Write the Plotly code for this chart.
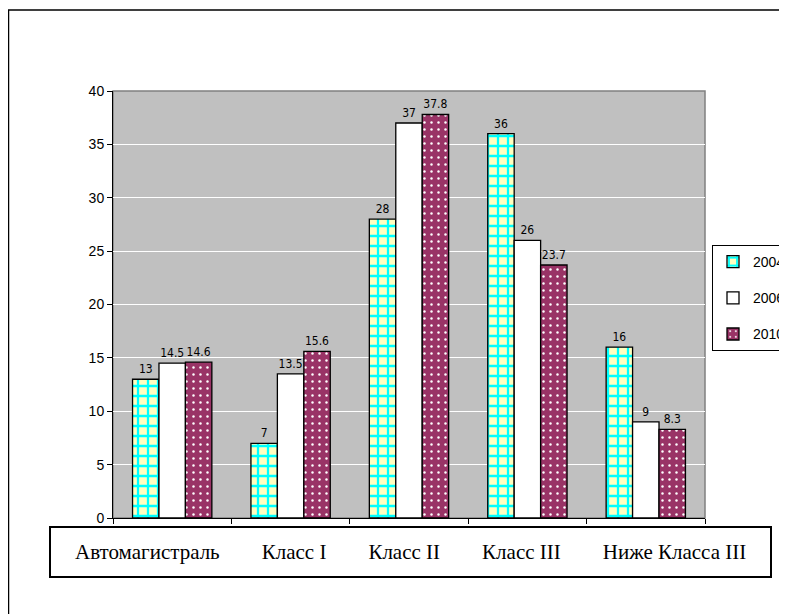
import plotly.graph_objects as go

categories = ["Автомагистраль", "Класс I", "Класс II", "Класс III", "Ниже Класса III"]
years = ["2004", "2006", "2010"]
v2004 = [13, 7, 28, 36, 16]
v2006 = [14.5, 13.5, 37, 26, 9]
v2010 = [14.6, 15.6, 37.8, 23.7, 8.3]
y_ticks = [0, 5, 10, 15, 20, 25, 30, 35, 40]

W, H = 787, 614
# page is offset by the 8px body margin
OFF = 8
PL, PR, PT, PB = 113, 705, 91, 518   # plot area in screenshot pixels
pw, ph = PR - PL, PB - PT
L, T = PL - OFF, PT - OFF
R = W - L - pw
B = H - T - ph

def px(x):
    return (x - PL) / pw

def py(y):
    return (PB - y) / ph

label_font = dict(family="Liberation Sans Narrow, Arial Narrow, DejaVu Sans Condensed, Liberation Sans",
                  size=12, color="black")

patterns = [
    dict(shape="+", fgcolor="#00FFFF", bgcolor="#FFFFC0", size=10, solidity=0.4, fillmode="replace"),
    None,
    dict(shape=".", fgcolor="#FFFFFF", bgcolor="#993366", size=7, solidity=0.1, fillmode="replace"),
]
colors = ["#00FFFF", "#FFFFFF", "#993366"]

fig = go.Figure()
for i, (name, vals) in enumerate(zip(years, [v2004, v2006, v2010])):
    marker = dict(color=colors[i], line=dict(color="black", width=1.3))
    if patterns[i] is not None:
        marker["pattern"] = patterns[i]
    fig.add_trace(go.Bar(
        x=categories, y=vals, name=name,
        marker=marker,
        text=[f"{v:g}" for v in vals],
        textposition="outside",
        textfont=label_font,
        cliponaxis=False,
        legendgroup=name,
    ))

gap = "\u00a0" * 8
category_line = gap.join(categories)

fig.update_layout(
    width=W, height=H,
    margin=dict(l=L, r=R, t=T, b=B, autoexpand=False),
    paper_bgcolor="white",
    plot_bgcolor="#C0C0C0",
    barmode="group",
    bargap=0.33,
    bargroupgap=0,
    showlegend=True,
    legend=dict(
        x=px(712), y=py(245), xanchor="left", yanchor="top",
        bgcolor="white", bordercolor="black", borderwidth=1,
        font=dict(family="Liberation Sans, Arial", size=14, color="black"),
        traceorder="grouped", tracegroupgap=15,
        itemwidth=30,
    ),
    xaxis=dict(
        showgrid=False, showline=True, linecolor="black", linewidth=1,
        ticks="outside", ticklen=5, tickcolor="black", tickson="boundaries",
        showticklabels=False, automargin=False,
    ),
    yaxis=dict(
        range=[0, 40], tickvals=y_ticks, automargin=False,
        showgrid=True, gridcolor="white", gridwidth=1,
        showline=True, linecolor="black", linewidth=1,
        ticks="outside", ticklen=5, tickcolor="black",
        tickfont=dict(family="Liberation Sans, Arial", size=14, color="black"),
        zeroline=False,
    ),
    annotations=[
        dict(text=category_line, xref="paper", yref="paper",
             x=px(410.5), y=py(552), xanchor="center", yanchor="middle",
             showarrow=False,
             font=dict(family="Liberation Serif, Times New Roman", size=21, color="black")),
    ],
    shapes=[
        dict(type="rect", xref="paper", yref="paper", x0=0, x1=1, y0=0, y1=1,
             line=dict(color="#808080", width=1.5), layer="below"),
        dict(type="rect", xref="paper", yref="paper",
             x0=px(50), x1=px(771), y0=py(577), y1=py(527),
             line=dict(color="black", width=2), fillcolor="rgba(0,0,0,0)"),
        dict(type="rect", xref="paper", yref="paper",
             x0=px(8.5), x1=px(840), y0=py(650), y1=py(10),
             line=dict(color="black", width=1.5), fillcolor="rgba(0,0,0,0)"),
    ],
)

fig.write_html("out.html")
